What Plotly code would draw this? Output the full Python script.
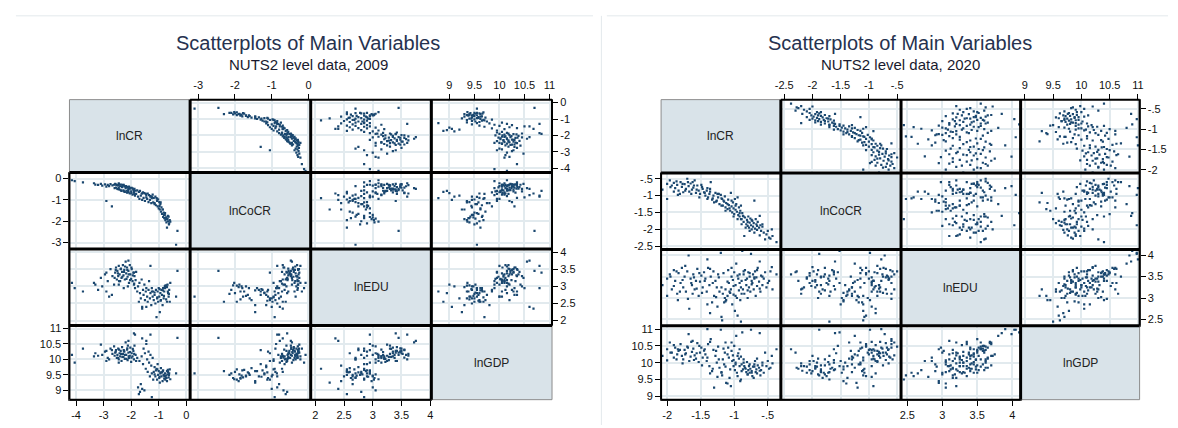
import plotly.graph_objects as go

VAR_NAMES = ["lnCR", "lnCoCR", "lnEDU", "lnGDP"]

# ---------------- 2009 data (NUTS2 regions) ----------------
cr09 = [-4.15, -4.05, -3.75, -0.32, -0.37, -2.90, -2.70, -3.30, -3.20, -3.10, -3.05, -2.95, -2.85, -2.80, -2.75, -2.68, -2.62, -3.35, -2.90,
        -2.58, -2.55, -2.52, -2.50, -2.47, -2.45, -2.42, -2.40, -2.38, -2.35, -2.33, -2.30, -2.28, -2.25, -2.23, -2.20, -2.18, -2.15, -2.13, -2.10,
        -2.08, -2.05, -2.03, -2.00, -1.98, -1.95, -1.92, -1.90, -1.88, -1.86, -1.84, -1.82, -2.27, -2.12, -2.45,
        -1.78, -1.75, -1.72, -1.70, -1.68, -1.65, -1.62, -1.60, -1.57, -1.55, -1.52, -1.50, -1.47, -1.45, -1.42, -1.40, -1.37, -1.35, -1.32, -1.30,
        -1.27, -1.25, -1.22, -1.20,
        -1.18, -1.15, -1.12, -1.10, -1.08, -1.06, -1.04, -1.02, -1.00, -0.98, -0.96, -0.94, -0.92, -0.90, -0.88, -0.86, -0.84, -0.82, -0.80, -0.78,
        -0.76, -0.74, -0.72, -0.70, -0.68, -0.66, -0.64, -0.62, -0.60, -0.70, -0.58,
        -1.30, -1.90, -2.10, -1.45, -1.60, -1.25,
        -2.60, -2.56, -2.48, -2.44, -2.37, -2.32, -2.26, -2.22, -2.17, -2.14, -2.09, -2.04, -1.99, -1.94, -1.89,
        -1.15, -1.05, -0.97, -0.93, -0.85, -0.81, -0.77, -0.73, -0.67, -0.63]
cocr09 = [-0.08, -0.12, -0.18, -2.45, -3.10, -1.05, -1.30, -0.28, -0.30, -0.25, -0.33, -0.27, -0.30, -0.35, -0.26, -0.32, -0.29, -0.22, -0.38,
          -0.25, -0.42, -0.30, -0.48, -0.33, -0.22, -0.52, -0.36, -0.28, -0.58, -0.40, -0.31, -0.55, -0.37, -0.62, -0.45, -0.35, -0.66, -0.41, -0.54,
          -0.38, -0.70, -0.47, -0.60, -0.43, -0.75, -0.52, -0.64, -0.48, -0.80, -0.57, -0.72, -0.29, -0.60, -0.45,
          -0.55, -0.85, -0.62, -0.95, -0.58, -0.80, -0.70, -1.00, -0.65, -0.90, -0.68, -1.05, -0.72, -0.88, -0.95, -0.70, -1.10, -0.78, -1.00, -0.82,
          -1.15, -0.86, -0.75, -1.12,
          -0.90, -1.15, -0.85, -1.25, -0.92, -1.05, -1.30, -0.98, -1.40, -1.10, -1.45, -1.20, -1.55, -1.35, -1.65, -1.45, -1.80, -1.60, -1.85, -1.70,
          -1.95, -1.82, -2.05, -1.90, -1.88, -2.00, -1.78, -2.10, -1.95, -2.30, -2.02,
          -0.85, -0.58, -0.48, -0.78, -0.70, -0.92,
          -0.45, -0.28, -0.50, -0.27, -0.55, -0.30, -0.60, -0.36, -0.57, -0.40, -0.65, -0.44, -0.68, -0.47, -0.72,
          -1.20, -0.95, -1.28, -1.12, -1.45, -1.70, -1.62, -1.85, -1.75, -2.15]
edu09 = [3.10, 2.95, 2.85, 3.45, 2.70, 3.40, 2.75, 3.05, 2.90, 3.25, 3.00, 3.35, 3.15, 2.70, 3.50, 3.30, 3.05, 3.10, 2.85,
         3.40, 3.55, 3.20, 3.45, 3.30, 3.60, 3.35, 3.15, 3.50, 3.25, 3.42, 3.62, 3.32, 3.48, 3.20, 3.72, 3.38, 3.55, 3.28, 3.45,
         3.10, 3.62, 3.35, 3.22, 3.50, 3.15, 3.40, 3.05, 3.30, 2.95, 3.18, 3.42, 2.95, 3.00, 3.05,
         2.85, 3.00, 2.55, 3.10, 2.80, 2.65, 3.20, 2.40, 2.90, 2.75, 3.05, 2.60, 2.85, 2.95, 2.70, 2.55, 2.90, 3.15, 2.65, 2.80,
         2.45, 2.95, 2.70, 2.85,
         2.60, 2.75, 2.50, 2.90, 2.10, 2.65, 2.85, 2.55, 2.95, 2.70, 2.25, 2.80, 2.60, 2.90, 2.75, 2.45, 2.95, 2.65, 2.85, 3.00,
         3.02, 3.00, 3.03, 2.98, 3.05, 2.80, 2.70, 2.90, 2.55, 2.55, 3.10,
         3.60, 3.40, 3.75, 2.40, 2.35, 2.85,
         3.25, 3.48, 3.38, 3.15, 3.52, 3.28, 3.42, 3.58, 3.22, 3.48, 3.35, 3.18, 3.55, 3.32, 3.08,
         2.82, 2.68, 2.92, 2.58, 2.88, 2.72, 2.95, 2.62, 2.85, 2.78]
gdp09 = [10.15, 9.90, 10.35, 10.70, 9.55, 9.95, 10.30, 10.20, 10.12, 10.48, 10.15, 10.25, 10.05, 10.00, 10.35, 10.18, 10.42, 10.10, 10.28,
         10.22, 10.30, 10.05, 10.15, 10.35, 10.00, 10.20, 10.10, 10.28, 9.95, 10.40, 10.18, 10.08, 10.25, 10.02, 10.55, 10.15, 10.32, 9.98, 10.22,
         10.05, 10.12, 10.38, 9.92, 10.20, 10.10, 10.28, 10.00, 10.45, 10.80, 10.15, 9.95, 10.30, 10.45, 9.90,
         10.05, 9.10, 8.88, 9.95, 8.95, 9.20, 10.10, 9.05, 9.85, 10.35, 9.00, 10.20, 9.70, 10.50, 10.00, 9.60, 10.25, 9.90, 9.45, 10.15,
         9.80, 9.55, 10.05, 9.35,
         9.60, 9.75, 9.45, 9.65, 9.70, 9.35, 9.85, 9.50, 9.62, 9.40, 9.25, 9.55, 9.72, 9.45, 9.58, 9.30, 9.65, 9.50, 9.38, 9.45,
         9.35, 9.48, 9.40, 9.30, 9.52, 9.60, 9.42, 9.55, 9.68, 9.62, 9.36,
         10.80, 10.84, 10.60, 10.60, 10.68, 8.78,
         10.12, 10.25, 10.05, 10.32, 10.18, 10.08, 10.28, 10.15, 10.02, 10.36, 10.10, 10.24, 10.06, 10.34, 10.18,
         9.52, 9.68, 9.44, 9.58, 9.62, 9.48, 9.55, 9.40, 9.66, 9.50]

# ---------------- 2020 data (NUTS2 regions) ----------------
cr20 = [-2.07, -2.00, -2.00, -1.96, -1.93, -1.90, -1.88, -1.85, -1.83, -1.80, -1.78, -1.76, -1.74, -1.72, -1.70, -1.68, -1.67, -1.65, -1.63, -1.61,
        -1.59, -1.57, -1.55, -1.53, -1.51, -1.49, -1.47, -1.45, -1.84, -1.62,
        -1.43, -1.41, -1.39, -1.37, -1.35, -1.33, -1.31, -1.30, -1.28, -1.26, -1.24, -1.22, -1.20, -1.19, -1.18, -1.17, -1.15, -1.14, -1.13, -1.12,
        -1.10, -1.09, -1.08, -1.06, -1.05, -1.04, -1.03, -1.02, -1.01, -1.00, -0.99, -0.98, -0.97, -0.96, -0.95, -0.94, -0.93, -0.92, -0.91, -0.90,
        -1.36, -1.25,
        -0.89, -0.87, -0.86, -0.85, -0.84, -0.82, -0.81, -0.80, -0.79, -0.78, -0.77, -0.76, -0.75, -0.74, -0.73, -0.72, -0.71, -0.70, -0.69, -0.68,
        -0.67, -0.66, -0.65, -0.63, -0.61, -0.60, -0.58, -0.56, -0.54, -0.52, -0.44, -0.43, -0.37, -0.48, -0.62, -0.88, -1.40, -0.90,
        -1.95, -1.90, -1.86, -1.81, -1.77, -1.73, -1.69, -1.64, -1.60, -1.56, -1.52, -1.48, -1.44, -1.40, -1.36, -1.32, -1.27, -1.23, -1.19, -1.16,
        -1.13, -1.10, -1.07, -1.04, -1.01, -0.98, -0.95, -0.92, -0.89, -0.86, -0.83, -0.80, -0.77, -0.74, -0.70, -0.66, -0.62, -0.58, -0.50, -0.46]
cocr20 = [-0.82, -0.65, -1.10, -0.55, -0.70, -0.62, -0.78, -0.68, -0.85, -0.60, -0.74, -0.90, -0.66, -0.80, -0.50, -0.72, -0.88, -0.64, -0.82, -0.76,
          -0.55, -0.92, -0.70, -0.85, -0.95, -0.68, -0.80, -0.90, -0.98, -0.60,
          -1.00, -0.85, -1.05, -0.95, -0.60, -1.12, -1.00, -1.20, -0.92, -1.15, -1.05, -1.25, -0.98, -1.08, -1.10, -1.30, -1.18, -1.02, -1.35, -1.22,
          -1.40, -1.12, -1.28, -1.45, -0.92, -1.32, -1.50, -1.20, -1.38, -1.55, -1.10, -1.42, -1.25, -1.48, -1.05, -1.58, -1.35, -1.62, -1.45, -1.30,
          -0.88, -0.95,
          -1.70, -1.60, -1.78, -2.20, -1.65, -1.85, -1.72, -1.90, -1.62, -1.95, -1.80, -1.68, -1.88, -2.00, -1.75, -1.92, -1.82, -1.15, -1.98, -1.70,
          -1.85, -2.02, -1.78, -1.95, -1.88, -2.05, -1.92, -2.10, -2.30, -2.15, -2.00, -2.20, -2.38, -2.25, -1.60, -1.52, -0.78, -1.70,
          -0.75, -0.88, -0.58, -0.95, -0.65, -0.85, -0.60, -0.95, -0.70, -0.82, -1.05, -0.75, -0.92, -1.10, -0.80, -1.08, -1.18, -0.95, -1.30, -1.15,
          -1.45, -1.25, -1.38, -1.15, -1.62, -1.30, -1.70, -1.52, -1.85, -1.62, -1.95, -1.78, -2.05, -1.72, -2.10, -1.90, -2.18, -1.85, -2.05, -2.28]
edu20 = [3.30, 3.45, 3.05, 3.55, 3.20, 3.65, 3.40, 3.10, 3.58, 3.35, 3.70, 3.25, 3.50, 3.15, 3.62, 3.99, 2.75, 3.45, 3.30, 3.55,
         3.20, 3.40, 3.68, 3.05, 3.38, 3.52, 3.25, 3.60, 2.95, 3.10,
         3.45, 3.15, 3.70, 3.30, 3.50, 2.90, 3.62, 3.05, 3.40, 3.25, 3.55, 3.15, 4.05, 2.56, 2.48, 3.10, 2.90, 3.00, 3.20, 2.95,
         3.05, 3.65, 3.35, 3.12, 3.20, 3.50, 2.85, 3.42, 3.08, 3.60, 2.70, 3.30, 3.80, 3.00, 2.59, 3.45, 3.18, 3.55, 2.95, 3.25,
         2.65, 2.80,
         3.40, 3.20, 3.55, 3.10, 3.65, 3.30, 3.45, 3.00, 3.60, 3.25, 3.50, 3.15, 4.03, 3.40, 3.35, 3.55, 3.20, 3.45, 3.62, 3.05,
         3.48, 3.28, 3.70, 3.38, 3.15, 3.52, 3.30, 3.45, 3.60, 3.25, 3.72, 3.20, 3.55, 3.40, 3.85, 4.10, 3.90, 2.45,
         3.50, 3.28, 3.62, 3.15, 3.42, 3.75, 2.98, 3.35, 3.48, 3.22, 3.58, 3.12, 3.40, 2.85, 3.68, 3.35, 3.02, 3.48, 3.25, 3.58,
         2.92, 3.38, 3.15, 3.70, 3.28, 3.05, 3.52, 3.35, 3.10, 3.62, 3.42, 3.18, 3.58, 3.32, 3.48, 3.65, 3.22, 3.50, 3.35, 3.62]
gdp20 = [10.20, 10.40, 10.07, 10.60, 10.30, 10.15, 10.45, 10.25, 10.35, 10.55, 10.20, 10.10, 10.38, 10.28, 10.48, 10.85, 10.05, 10.18, 10.32, 10.42,
         10.22, 10.12, 10.58, 10.02, 10.30, 10.45, 10.15, 10.36, 10.40, 10.65,
         10.25, 10.05, 10.55, 9.90, 10.70, 9.75, 10.38, 9.26, 10.20, 10.00, 10.48, 9.85, 10.98, 9.70, 9.62, 10.10, 9.95, 10.30, 10.60, 9.40,
         9.38, 10.45, 10.15, 9.80, 9.30, 10.35, 10.05, 10.22, 9.90, 10.50, 9.78, 10.00, 10.80, 9.70, 9.60, 10.28, 10.12, 10.40, 9.45, 10.18,
         9.68, 9.58,
         9.95, 9.80, 10.10, 9.90, 9.85, 9.72, 10.02, 9.65, 9.78, 9.90, 9.70, 9.82, 10.98, 9.75, 9.60, 9.88, 9.55, 9.95, 10.05, 9.72,
         9.80, 9.68, 9.92, 9.85, 9.62, 9.78, 10.00, 9.70, 10.30, 9.90, 10.20, 9.98, 10.40, 9.82, 10.88, 10.90, 11.00, 9.50,
         10.30, 10.52, 10.10, 10.38, 9.98, 10.25, 10.45, 10.62, 10.08, 10.28, 10.50, 9.92, 10.40, 10.15, 10.62, 9.82, 10.35, 10.10, 9.72, 10.42,
         9.88, 10.25, 9.55, 10.60, 10.08, 9.95, 10.20, 9.90, 9.75, 10.00, 9.82, 9.65, 9.95, 9.70, 9.88, 10.12, 9.76, 9.92, 10.05, 9.85]

# ---------------- tick labels ----------------
tick_vals_09 = [[-4, -3, -2, -1, 0], [-3, -2, -1, 0], [2, 2.5, 3, 3.5, 4], [9, 9.5, 10, 10.5, 11]]
tick_text_09 = [["-4", "-3", "-2", "-1", "0"], ["-3", "-2", "-1", "0"], ["2", "2.5", "3", "3.5", "4"], ["9", "9.5", "10", "10.5", "11"]]
tick_vals_20 = [[-2, -1.5, -1, -0.5], [-2.5, -2, -1.5, -1, -0.5], [2.5, 3, 3.5, 4], [9, 9.5, 10, 10.5, 11]]
tick_text_20 = [["-2", "-1.5", "-1", "-.5"], ["-2.5", "-2", "-1.5", "-1", "-.5"], ["2.5", "3", "3.5", "4"], ["9", "9.5", "10", "10.5", "11"]]

TITLE = "Scatterplots of Main Variables"
SUBTITLES = ["NUTS2 level data, 2009", "NUTS2 level data, 2020"]

# ---------------- styling ----------------
W, H = 1178, 428
FONT = "Liberation Sans, Arial, sans-serif"
MARK = "#1a476f"
GRID = "#e2eaee"
DIAG = "#d9e3e9"


def fx(x):
    return x / W


def fy(y):
    return 1 - y / H


matrices = [
    dict(vals=[cr09, cocr09, edu09, gdp09],
         cols=[64, 185.7, 307.3, 429, 550.7], rows=[98, 172, 249.5, 327, 402.3],
         xr=[[-4.24, 0.14], [-3.22, 0.06], [1.92, 4.02], [8.64, 11.05]],
         yr=[[-4.26, 0.18], [-3.3, 0.28], [1.86, 4.09], [8.7, 11.1]],
         tv=tick_vals_09, tt=tick_text_09, cx=305, sub=SUBTITLES[0]),
    dict(vals=[cr20, cocr20, edu20, gdp20],
         cols=[660.7, 781.5, 902.7, 1023.3, 1143.3], rows=[98, 172.3, 250, 327.3, 402.3],
         xr=[[-2.09, -0.305], [-2.56, -0.43], [2.41, 4.12], [8.925, 11.03]],
         yr=[[-2.08, -0.27], [-2.6, -0.325], [2.355, 4.13], [8.9, 11.1]],
         tv=tick_vals_20, tt=tick_text_20, cx=902, sub=SUBTITLES[1]),
]

fig = go.Figure()
layout = {}
shapes = []
annotations = []
tickfont = dict(family=FONT, size=11, color="#111111")

# light page frame lines
shapes.append(dict(type="line", xref="paper", yref="paper", x0=fx(10), x1=fx(592), y0=fy(13), y1=fy(13),
                   line=dict(color="#e3e9ec", width=1)))
shapes.append(dict(type="line", xref="paper", yref="paper", x0=fx(606), x1=fx(1172), y0=fy(13), y1=fy(13),
                   line=dict(color="#e3e9ec", width=1)))
shapes.append(dict(type="line", xref="paper", yref="paper", x0=fx(600.5), x1=fx(600.5), y0=fy(13), y1=0,
                   line=dict(color="#e3e9ec", width=1)))

k = 0
for m in matrices:
    C, R = m["cols"], m["rows"]
    for i in range(4):
        for j in range(4):
            if i == j:
                shapes.append(dict(type="rect", xref="paper", yref="paper",
                                   x0=fx(C[j]), x1=fx(C[j + 1]), y0=fy(R[i + 1]), y1=fy(R[i]),
                                   fillcolor=DIAG, line=dict(color="#8c8c8c", width=1)))
                annotations.append(dict(text=VAR_NAMES[i], xref="paper", yref="paper",
                                        x=fx((C[j] + C[j + 1]) / 2), y=fy((R[i] + R[i + 1]) / 2),
                                        xanchor="center", yanchor="middle",
                                        showarrow=False, font=dict(family=FONT, size=12, color="#222222")))
                continue
            k += 1
            xn = "xaxis" if k == 1 else f"xaxis{k}"
            yn = "yaxis" if k == 1 else f"yaxis{k}"
            xr_ = "x" if k == 1 else f"x{k}"
            yr_ = "y" if k == 1 else f"y{k}"
            top = i == 0 and j in (1, 3)
            bottom = i == 3 and j in (0, 2)
            right = j == 3 and i in (0, 2)
            left = j == 0 and i in (1, 3)
            layout[xn] = dict(domain=[fx(C[j]), fx(C[j + 1])], range=m["xr"][j], anchor=yr_,
                              tickvals=m["tv"][j], ticktext=m["tt"][j],
                              showticklabels=top or bottom, side="top" if top else "bottom",
                              ticks="outside" if (top or bottom) else "", ticklen=5, tickwidth=1, tickcolor="#000",
                              tickfont=tickfont, showgrid=True, gridcolor=GRID, gridwidth=1.5, zeroline=False,
                              showline=True, mirror=True, linecolor="#666666", linewidth=1, fixedrange=True)
            layout[yn] = dict(domain=[fy(R[i + 1]), fy(R[i])], range=m["yr"][i], anchor=xr_,
                              tickvals=m["tv"][i], ticktext=m["tt"][i],
                              showticklabels=left or right, side="right" if right else "left",
                              ticks="outside" if (left or right) else "", ticklen=5, tickwidth=1, tickcolor="#000",
                              tickfont=tickfont, showgrid=True, gridcolor=GRID, gridwidth=1.5, zeroline=False,
                              showline=True, mirror=True, linecolor="#666666", linewidth=1, fixedrange=True)
            fig.add_trace(go.Scatter(x=m["vals"][j], y=m["vals"][i], mode="markers", xaxis=xr_, yaxis=yr_,
                                     marker=dict(symbol="square", size=2.2, color=MARK, line=dict(width=0)),
                                     showlegend=False, hoverinfo="skip"))
    # heavy separators between panels
    for c in C[1:4]:
        shapes.append(dict(type="line", xref="paper", yref="paper", x0=fx(c), x1=fx(c), y0=fy(R[4]), y1=fy(R[0]),
                           line=dict(color="#000", width=3)))
    for r in R[1:4]:
        shapes.append(dict(type="line", xref="paper", yref="paper", x0=fx(C[0]), x1=fx(C[4]), y0=fy(r), y1=fy(r),
                           line=dict(color="#000", width=3)))
    # outer axis edges
    shapes.append(dict(type="line", xref="paper", yref="paper", x0=fx(C[1]), x1=fx(C[4]), y0=fy(R[0]), y1=fy(R[0]),
                       line=dict(color="#000", width=2)))
    shapes.append(dict(type="line", xref="paper", yref="paper", x0=fx(C[0]), x1=fx(C[3]), y0=fy(R[4]), y1=fy(R[4]),
                       line=dict(color="#000", width=2)))
    shapes.append(dict(type="line", xref="paper", yref="paper", x0=fx(C[0]), x1=fx(C[0]), y0=fy(R[4]), y1=fy(R[1]),
                       line=dict(color="#000", width=2)))
    shapes.append(dict(type="line", xref="paper", yref="paper", x0=fx(C[4]), x1=fx(C[4]), y0=fy(R[3]), y1=fy(R[0]),
                       line=dict(color="#000", width=2)))
    annotations.append(dict(text=TITLE, xref="paper", yref="paper", x=fx(m["cx"]), y=fy(41), showarrow=False,
                            xanchor="center", yanchor="middle", font=dict(family=FONT, size=20, color="#26324f")))
    annotations.append(dict(text=m["sub"], xref="paper", yref="paper", x=fx(m["cx"]), y=fy(62), showarrow=False,
                            xanchor="center", yanchor="middle", font=dict(family=FONT, size=15, color="#1a1a2e")))

fig.update_layout(width=W, height=H, margin=dict(l=0, r=0, t=0, b=0), paper_bgcolor="white",
                  plot_bgcolor="white", showlegend=False, shapes=shapes, annotations=annotations,
                  font=dict(family=FONT), **layout)
fig.write_html("out.html", config={"displayModeBar": False},
               post_script="document.body.style.margin='0';document.body.style.overflow='hidden';")
